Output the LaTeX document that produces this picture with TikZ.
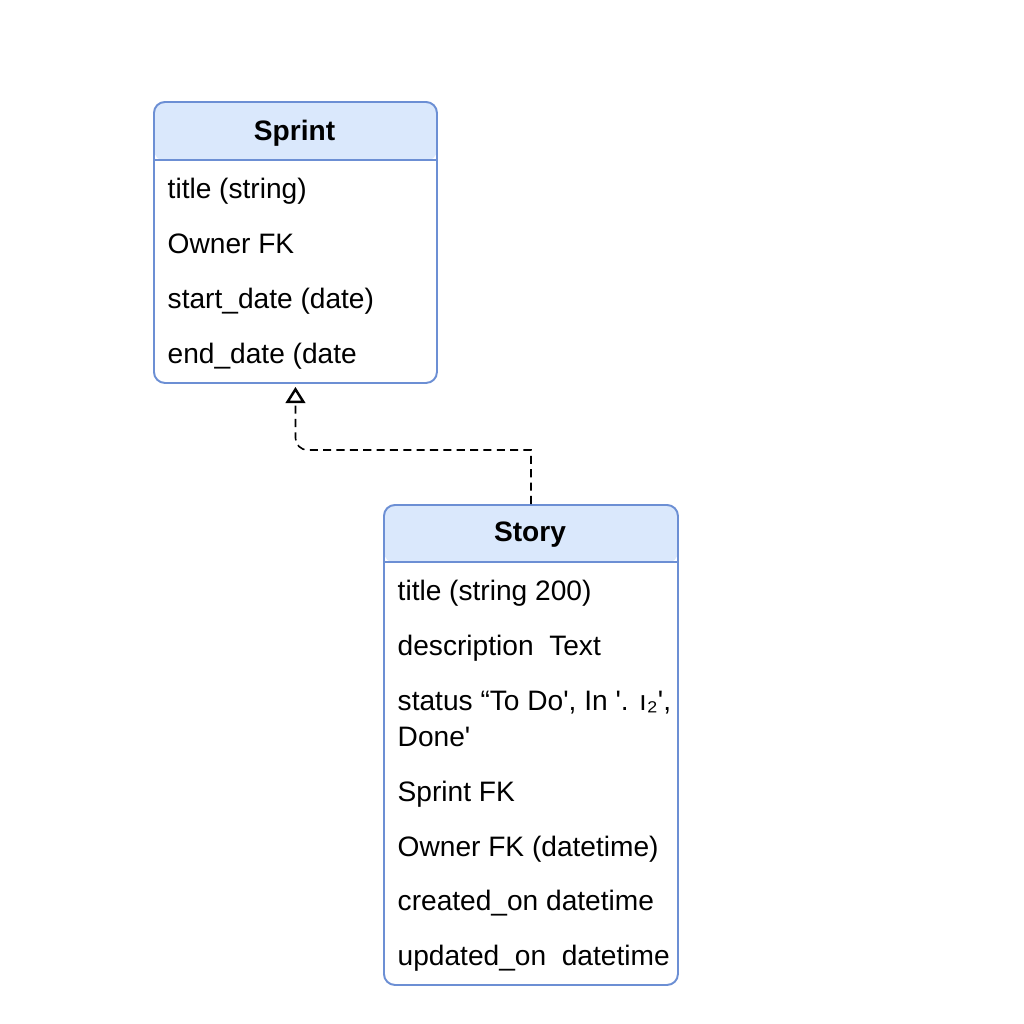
\documentclass[tikz,border=0pt]{standalone}
\usepackage{fontspec}
\setmainfont{Liberation Sans}
\usepackage{xcolor}
\usetikzlibrary{arrows.meta}
\definecolor{boxblue}{HTML}{6C8FD4}
\definecolor{headblue}{HTML}{DAE8FC}

\begin{document}
\begin{tikzpicture}[
  entity/.style={draw=boxblue,line width=0.55pt,rounded corners=0.11cm,inner sep=0pt,anchor=north west,
    path picture={\fill[headblue] (path picture bounding box.north west) rectangle ([yshift=-#1]path picture bounding box.north east);}},
  field/.style={anchor=west,inner sep=0pt,text height=0.75em,text depth=0.25em,font=\fontsize{8}{10}\selectfont},
  head/.style={inner sep=0pt,font=\fontsize{8}{10}\selectfont\bfseries},
  dep/.style={line width=0.45pt,dash pattern=on 2.3pt off 1.5pt,-{Triangle[open,length=4.6pt,width=5.6pt,line width=0.7pt]}}]
  \useasboundingbox (0,0) rectangle (10.24,-10.24);
  \node [entity=0.59cm,minimum width=2.83cm,minimum height=2.81cm] (sprint) at (1.53,-1.01) {};
  \draw [boxblue,line width=0.55pt] ([yshift=-0.59cm]sprint.north west) -- ([yshift=-0.59cm]sprint.north east);
  \node [head] (sprinttitle) at (2.945,-1.33) {Sprint};
  \node [field] (sp1) at (1.67,-1.90) {title (string)};
  \node [field] (sp2) at (1.67,-2.45) {Owner FK};
  \node [field] (sp3) at (1.67,-3.00) {start\_date (date)};
  \node [field] (sp4) at (1.67,-3.55) {end\_date (date};
  \node [entity=0.58cm,minimum width=2.94cm,minimum height=4.80cm] (story) at (3.83,-5.04) {};
  \draw [boxblue,line width=0.55pt] ([yshift=-0.58cm]story.north west) -- ([yshift=-0.58cm]story.north east);
  \node [head] (storytitle) at (5.30,-5.35) {Story};
  \node [field] (st1) at (3.97,-5.92) {title (string 200)};
  \node [field] (st2) at (3.97,-6.47) {description\ \ Text};
  \node [field] (st3) at (3.97,-7.02) {status “To Do\textquotesingle, In \textquotesingle. ı₂\textquotesingle,};
  \node [field] (st3b) at (3.97,-7.38) {Done\textquotesingle};
  \node [field] (st4) at (3.97,-7.93) {Sprint FK};
  \node [field] (st5) at (3.97,-8.48) {Owner FK (datetime)};
  \node [field] (st6) at (3.97,-9.02) {created\_on\ datetime};
  \node [field] (st7) at (3.97,-9.57) {updated\_on\ \ datetime};
  \draw [dep] (story.north) -- (story.north |- 0,-4.50) [rounded corners=0.12cm] -- (sprint.south |- 0,-4.50) -- ([yshift=-0.03cm]sprint.south);
\end{tikzpicture}
\end{document}
